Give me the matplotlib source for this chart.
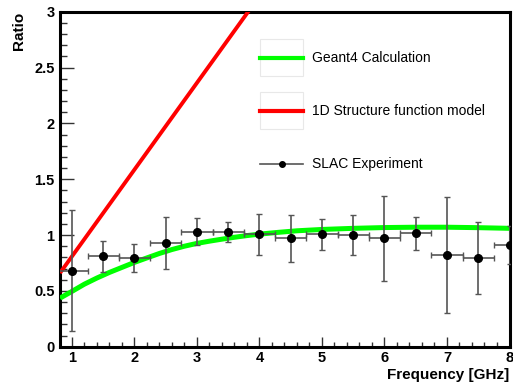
import matplotlib
matplotlib.use("Agg")
import matplotlib.pyplot as plt
from matplotlib.lines import Line2D
from matplotlib.patches import Rectangle
from matplotlib.ticker import MultipleLocator, FuncFormatter

plt.rcParams['font.family'] = ['Liberation Sans', 'DejaVu Sans']

# SLAC experiment data
slac_x = [1.0, 1.5, 2.0, 2.5, 3.0, 3.5, 4.0, 4.5, 5.0, 5.5, 6.0, 6.5, 7.0, 7.5, 8.0]
slac_y = [0.68, 0.81, 0.795, 0.93, 1.03, 1.03, 1.005, 0.97, 1.005, 1.0, 0.97, 1.015, 0.825, 0.795, 0.91]
slac_yerr = [0.54, 0.14, 0.125, 0.23, 0.12, 0.09, 0.18, 0.21, 0.135, 0.175, 0.38, 0.15, 0.52, 0.32, 0.17]
slac_xerr = [0.25] * 15

# Geant4 calculation curve
g4_x = [0.81, 1.0, 1.2, 1.4, 1.6, 1.8, 2.0, 2.2, 2.4, 2.6, 2.8, 3.0, 3.2, 3.4, 3.6, 3.8,
        4.0, 4.3, 4.6, 5.0, 5.5, 6.0, 6.5, 7.0, 7.5, 8.0]
g4_y = [0.435, 0.495, 0.56, 0.615, 0.665, 0.71, 0.755, 0.795, 0.835, 0.87, 0.90, 0.925, 0.945,
        0.963, 0.98, 0.995, 1.008, 1.024, 1.038, 1.05, 1.06, 1.067, 1.07, 1.07, 1.066, 1.06]

# 1D structure function model
sf_x = [0.81, 4.0]
sf_y = [0.66, 3.14]

W, H = 513, 386
fig = plt.figure(figsize=(W / 100, H / 100), dpi=100)
ax = fig.add_axes([60 / W, 1 - 346.7 / H, (509.5 - 60) / W, (346.7 - 11.7) / H])

ax.plot(g4_x, g4_y, color='#00ff00', lw=3.6, solid_capstyle='butt', solid_joinstyle='round', zorder=3)
ax.plot(sf_x, sf_y, color='#ff0000', lw=2.8, solid_capstyle='butt', zorder=3)
ax.errorbar(slac_x, slac_y, yerr=slac_yerr, xerr=slac_xerr, fmt='o', color='black',
            ecolor='#555555', elinewidth=1.2, capsize=2.0, capthick=1.0,
            markersize=5.5, zorder=4)

ax.set_xlim(0.81, 8.0)
ax.set_ylim(0, 3)
ax.xaxis.set_major_locator(MultipleLocator(1))
ax.xaxis.set_minor_locator(MultipleLocator(0.2))
ax.yaxis.set_major_locator(MultipleLocator(0.5))
ax.yaxis.set_minor_locator(MultipleLocator(0.1))
ax.tick_params(axis='both', which='both', direction='in', top=False, right=False, color='#333333')
ax.tick_params(axis='y', which='major', length=10, width=1.0, pad=4)
ax.tick_params(axis='y', which='minor', length=5, width=1.0)
ax.tick_params(axis='x', which='major', length=7, width=1.0, pad=3)
ax.tick_params(axis='x', which='minor', length=3.5, width=1.0)
ax.xaxis.set_major_formatter(FuncFormatter(lambda v, p: f"{v:g}"))
ax.yaxis.set_major_formatter(FuncFormatter(lambda v, p: f"{v:g}"))
for lab in ax.get_xticklabels() + ax.get_yticklabels():
    lab.set_fontweight('bold')
    lab.set_fontsize(10.5)
for sp in ax.spines.values():
    sp.set_linewidth(2.2)

ax.set_xlabel('Frequency [GHz]', loc='right', fontweight='bold', fontsize=11, labelpad=2)
ax.set_ylabel('Ratio', loc='top', fontweight='bold', fontsize=11, labelpad=6)

# legend (manual, ROOT style)
def fx(px):
    return px / W

def fy(py):
    return 1 - py / H

for yc in [57.8, 110.8]:
    fig.add_artist(Rectangle((fx(260), fy(yc + 18.5)), fx(303) - fx(260), 37 / H,
                             facecolor='white', edgecolor='#e8e8e8', lw=0.8))
fig.add_artist(Line2D([fx(260), fx(303)], [fy(57.8)] * 2, color='#00ff00', lw=3.0))
fig.add_artist(Line2D([fx(260), fx(303)], [fy(110.8)] * 2, color='#ff0000', lw=3.0))
fig.add_artist(Line2D([fx(260), fx(303)], [fy(164)] * 2, color='#555555', lw=1.2))
fig.add_artist(Line2D([fx(281.5)], [fy(164)], color='black', marker='o', markersize=4, lw=0))
for txt, yc in [('Geant4 Calculation', 57.8), ('1D Structure function model', 110.8), ('SLAC Experiment', 164)]:
    fig.text(fx(311.5), fy(yc), txt, fontsize=10, va='center', ha='left')

fig.savefig('out.png', dpi=100)
